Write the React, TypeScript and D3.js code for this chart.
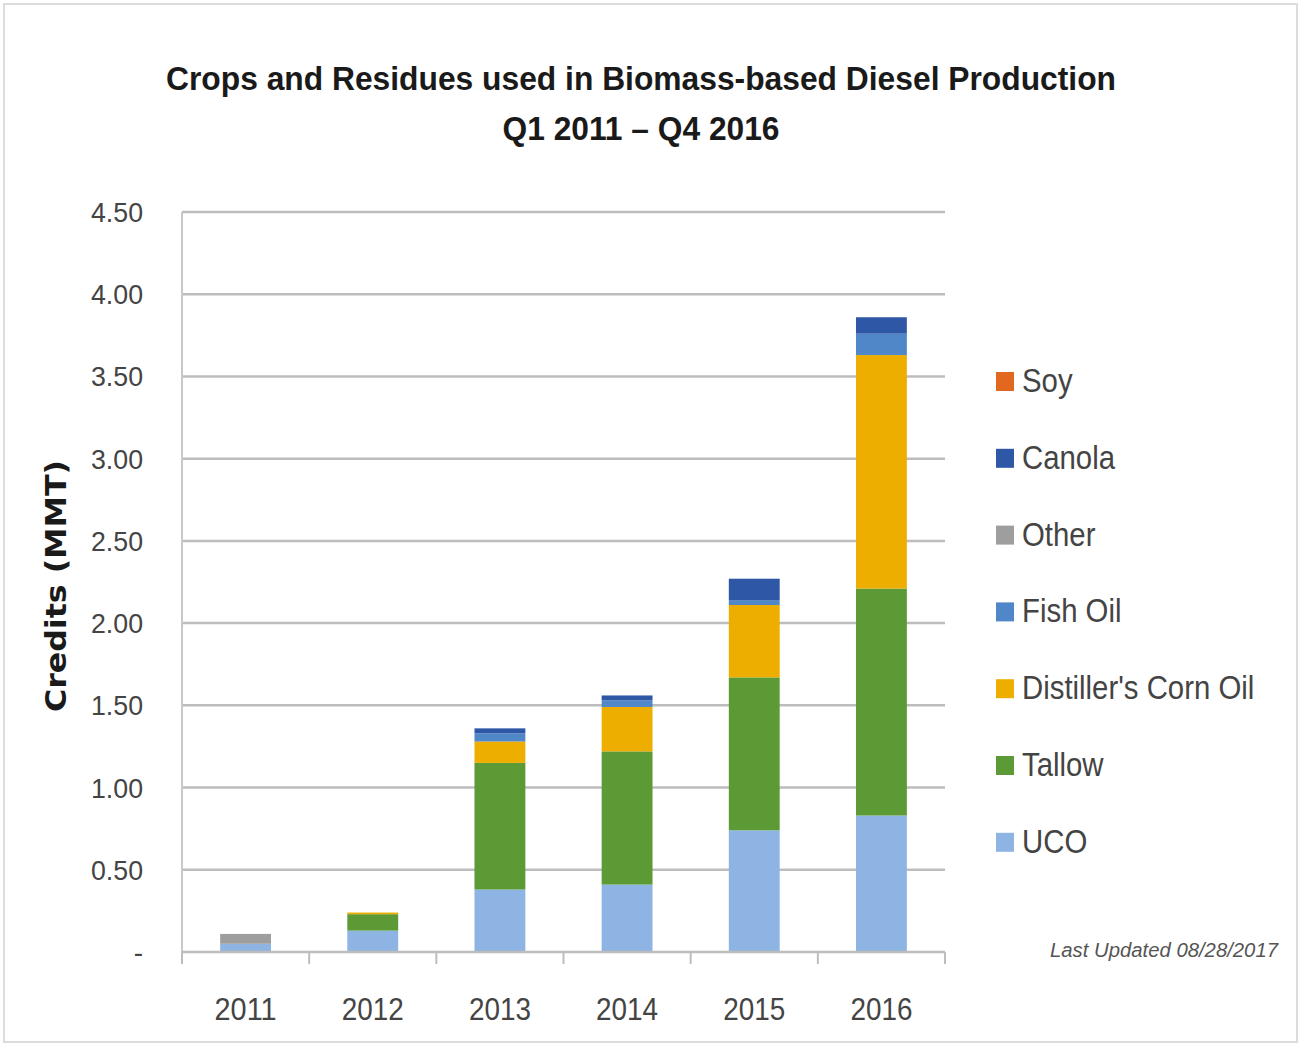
import React from "react";
import * as d3 from "d3";

const years = ["2011", "2012", "2013", "2014", "2015", "2016"];
const uco = [0.05, 0.13, 0.38, 0.41, 0.74, 0.83];
const tallow = [0.0, 0.1, 0.77, 0.81, 0.93, 1.38];
const cornOil = [0.0, 0.01, 0.13, 0.27, 0.44, 1.42];
const fishOil = [0.0, 0.0, 0.05, 0.04, 0.03, 0.13];
const other = [0.06, 0.0, 0.0, 0.0, 0.0, 0.0];
const canola = [0.0, 0.0, 0.03, 0.03, 0.13, 0.1];
const soy = [0.0, 0.0, 0.0, 0.0, 0.0, 0.0];

const seriesNames = ["UCO", "Tallow", "Distiller's Corn Oil", "Fish Oil", "Other", "Canola", "Soy"];
const seriesValues = [uco, tallow, cornOil, fishOil, other, canola, soy];
const seriesColors = ["#8EB4E3", "#5C9A36", "#EDAE00", "#4F87C9", "#9E9E9E", "#2E57A6", "#E2681F"];
const yTicks = [0, 0.5, 1, 1.5, 2, 2.5, 3, 3.5, 4, 4.5];

const W = 1301;
const H = 1046;
const M = { left: 182, right: 945, top: 212, bottom: 952 };
const font = "'Liberation Sans', Arial, sans-serif";

export default function App() {
  const x = d3.scaleBand<string>().domain(years).range([M.left, M.right]).paddingInner(0.6).paddingOuter(0.3);
  const xb = d3.scaleBand<string>().domain(years).range([M.left, M.right]);
  const y = d3.scaleLinear().domain([0, 4.5]).range([M.bottom, M.top]);

  const rows = years.map((yr, i) => {
    const r: any = { year: yr };
    seriesNames.forEach((n, k) => (r[n] = seriesValues[k][i]));
    return r;
  });
  const stacked = d3.stack<any>().keys(seriesNames)(rows);

  const legendY0 = 381;
  const legendStep = 76.8;
  const legendOrder = [...seriesNames.keys()].reverse();

  return (
    <svg width={W} height={H} style={{ position: "absolute", left: 0, top: 0, background: "#fff" }}>
      <rect x={4} y={4} width={W - 8} height={H - 8} fill="#fff" stroke="#dcdcdc" strokeWidth={2} />
      <text x={641} y={90} textAnchor="middle" fontFamily={font} fontWeight="bold" fontSize={34} fill="#1a1a1a"
        textLength={950} lengthAdjust="spacingAndGlyphs">
        Crops and Residues used in Biomass-based Diesel Production
      </text>
      <text x={641} y={140} textAnchor="middle" fontFamily={font} fontWeight="bold" fontSize={34} fill="#1a1a1a"
        textLength={277} lengthAdjust="spacingAndGlyphs">
        Q1 2011 – Q4 2016
      </text>

      {yTicks.map((t) => (
        <g key={t}>
          {t > 0 && <line x1={M.left} x2={M.right} y1={y(t)} y2={y(t)} stroke="#bdbdbd" strokeWidth={2.5} />}
          <text x={143} y={y(t) + 10} textAnchor="end" fontFamily={font} fontSize={28} fill="#444"
            textLength={t === 0 ? undefined : 52} lengthAdjust="spacingAndGlyphs">
            {t === 0 ? "-" : t.toFixed(2)}
          </text>
        </g>
      ))}
      <line x1={M.left} x2={M.left} y1={M.top} y2={M.bottom} stroke="#c8c8c8" strokeWidth={2} />

      {stacked.map((s, k) => (
        <g key={seriesNames[k]} fill={seriesColors[k]}>
          {s.map((d, i) =>
            d[1] - d[0] > 0 ? (
              <rect key={i} x={x(years[i])} width={x.bandwidth()} y={y(d[1])} height={y(d[0]) - y(d[1])} />
            ) : null
          )}
        </g>
      ))}

      <line x1={M.left} x2={M.right} y1={M.bottom} y2={M.bottom} stroke="#bdbdbd" strokeWidth={2.5} />
      {[...years.map((yr) => xb(yr) as number), M.right].map((px, i) => (
        <line key={i} x1={px} x2={px} y1={M.bottom} y2={M.bottom + 12} stroke="#bdbdbd" strokeWidth={2} />
      ))}
      {years.map((yr) => (
        <text key={yr} x={(x(yr) as number) + x.bandwidth() / 2} y={1020} textAnchor="middle" fontFamily={font}
          fontSize={32} fill="#444" textLength={62} lengthAdjust="spacingAndGlyphs">
          {yr}
        </text>
      ))}

      <text
        transform={`translate(66,586) rotate(-90)`}
        textAnchor="middle"
        fontFamily="'DejaVu Sans', Verdana, sans-serif"
        fontWeight="bold"
        fontSize={28}
        fill="#1a1a1a"
        textLength={252}
        lengthAdjust="spacingAndGlyphs"
      >
        Credits (MMT)
      </text>

      {legendOrder.map((k, j) => (
        <g key={seriesNames[k]} transform={`translate(996,${legendY0 + j * legendStep})`}>
          <rect x={0} y={-9} width={18} height={19} fill={seriesColors[k]} />
          <g transform="translate(26,0) scale(0.89,1)">
            <text x={0} y={11} fontFamily={font} fontSize={33} fill="#444">
              {seriesNames[k]}
            </text>
          </g>
        </g>
      ))}

      <text x={1278} y={957} textAnchor="end" fontFamily={font} fontStyle="italic" fontSize={20} fill="#555"
        textLength={228} lengthAdjust="spacingAndGlyphs">
        Last Updated 08/28/2017
      </text>
    </svg>
  );
}
